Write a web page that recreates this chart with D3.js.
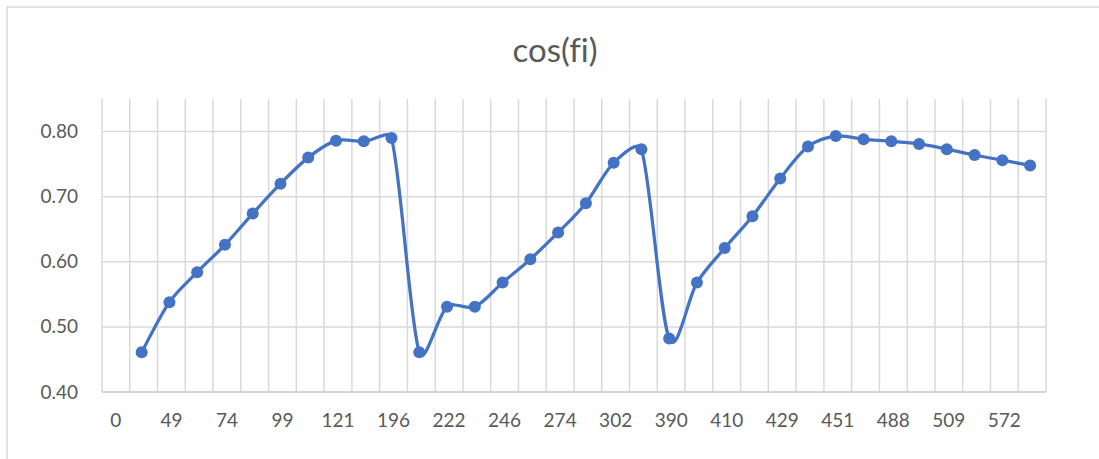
<!DOCTYPE html>
<html>
<head>
<meta charset="utf-8">
<script src="https://cdn.jsdelivr.net/npm/d3@7.9.0/dist/d3.min.js"></script>
<style>
  body { margin: 0; background: #fff; }
  svg { display: block; font-family: Lato, "Open Sans", sans-serif; font-variant-ligatures: none; }
</style>
</head>
<body>
<div id="chart"></div>
<script>
// Excel only prints every second category label; the odd ones are hidden
const tickLabels = ['0', '49', '74', '99', '121', '196', '222', '246', '274',
  '302', '390', '410', '429', '451', '488', '509', '572'];

// cos(fi) per category (first category has no value)
const cosFi = [null,
  0.461, 0.538, 0.584, 0.626, 0.674, 0.720, 0.760, 0.786, 0.785, 0.790,
  0.461, 0.531, 0.531, 0.568, 0.604, 0.645, 0.690, 0.752, 0.773,
  0.482, 0.568, 0.621, 0.670, 0.728, 0.777, 0.793, 0.788, 0.785, 0.781,
  0.773, 0.764, 0.756, 0.748];

const yTicks = [0.4, 0.5, 0.6, 0.7, 0.8];

const width = 1099, height = 459;
const plot = { left: 102, right: 1046, top: 99, bottom: 392 };

const svg = d3.select('#chart').append('svg')
  .attr('width', width)
  .attr('height', height);

// chart area border (cut off at right/bottom in the screenshot)
svg.append('rect')
  .attr('x', 7).attr('y', 7)
  .attr('width', width + 10).attr('height', height + 10)
  .attr('fill', 'none')
  .attr('stroke', '#d9d9d9')
  .attr('stroke-width', 1.5);

const idx = cosFi.map((d, i) => i);

const x = d3.scaleBand()
  .domain(idx)
  .range([plot.left, plot.right])
  .padding(0);

const y = d3.scaleLinear()
  .domain([0.4, 0.85])
  .range([plot.bottom, plot.top]);

// vertical gridlines on category boundaries
svg.append('g')
  .selectAll('line')
  .data(idx.concat([idx.length]))
  .join('line')
  .attr('x1', (d) => plot.left + d * x.bandwidth())
  .attr('x2', (d) => plot.left + d * x.bandwidth())
  .attr('y1', plot.top)
  .attr('y2', plot.bottom)
  .attr('stroke', '#d9d9d9')
  .attr('stroke-width', 1.5);

// horizontal gridlines
svg.append('g')
  .selectAll('line')
  .data(yTicks)
  .join('line')
  .attr('x1', plot.left)
  .attr('x2', plot.right)
  .attr('y1', (d) => y(d))
  .attr('y2', (d) => y(d))
  .attr('stroke', '#d9d9d9')
  .attr('stroke-width', 1.5);

// y axis labels
const yAxis = svg.append('g')
  .attr('transform', `translate(${plot.left},0)`)
  .call(d3.axisLeft(y).tickValues(yTicks).tickFormat(d3.format('.2f')).tickSize(0).tickPadding(24));
yAxis.select('.domain').remove();
yAxis.selectAll('text')
  .attr('fill', '#595959')
  .style('font-size', '19px')
  .style('font-family', 'Lato, sans-serif');

// x axis labels, every second category
const labelled = idx.filter((i) => i % 2 === 0);
const xAxis = svg.append('g')
  .attr('transform', `translate(0,${plot.bottom})`)
  .call(d3.axisBottom(x)
    .tickValues(labelled)
    .tickFormat((d) => tickLabels[d / 2])
    .tickSize(0)
    .tickPadding(22));
xAxis.select('.domain').remove();
xAxis.selectAll('text')
  .attr('fill', '#595959')
  .style('font-size', '19px')
  .style('font-family', 'Lato, sans-serif');

// baseline
svg.append('line')
  .attr('x1', plot.left).attr('x2', plot.right)
  .attr('y1', plot.bottom).attr('y2', plot.bottom)
  .attr('stroke', '#d0d0d0')
  .attr('stroke-width', 1.5);

const pts = idx.filter((i) => cosFi[i] != null);
const cx = (i) => x(i) + x.bandwidth() / 2 - 2;

// Excel style smoothing: bezier with 1/6 tangents, control arm capped to a third of the segment
function excelSmooth(p) {
  const path = d3.path();
  const dist = (a, b) => Math.hypot(b[0] - a[0], b[1] - a[1]);
  const cap = 1 / 3;
  path.moveTo(p[0][0], p[0][1]);
  for (let i = 0; i < p.length - 1; i++) {
    const p0 = p[Math.max(i - 1, 0)], p1 = p[i], p2 = p[i + 1], p3 = p[Math.min(i + 2, p.length - 1)];
    const d12 = dist(p1, p2);
    const d02 = dist(p0, p2), d13 = dist(p1, p3);
    let f1 = 1 / 6, f2 = 1 / 6;
    if (d02 / 6 > d12 * cap) f1 = d12 * cap / d02;
    if (d13 / 6 > d12 * cap) f2 = d12 * cap / d13;
    path.bezierCurveTo(
      p1[0] + (p2[0] - p0[0]) * f1, p1[1] + (p2[1] - p0[1]) * f1,
      p2[0] - (p3[0] - p1[0]) * f2, p2[1] - (p3[1] - p1[1]) * f2,
      p2[0], p2[1]);
  }
  return path.toString();
}

svg.append('path')
  .attr('d', excelSmooth(pts.map((i) => [cx(i), y(cosFi[i])])))
  .attr('fill', 'none')
  .attr('stroke', '#4472c4')
  .attr('stroke-width', 3.25)
  .attr('stroke-linejoin', 'round');

svg.append('g')
  .selectAll('circle')
  .data(pts)
  .join('circle')
  .attr('cx', (i) => cx(i))
  .attr('cy', (i) => y(cosFi[i]))
  .attr('r', 6)
  .attr('fill', '#4472c4');

// title
svg.append('text')
  .attr('x', 555)
  .attr('y', 62)
  .attr('text-anchor', 'middle')
  .attr('fill', '#595959')
  .style('font-size', '33px')
  .text('cos(fi)');
</script>
</body>
</html>
